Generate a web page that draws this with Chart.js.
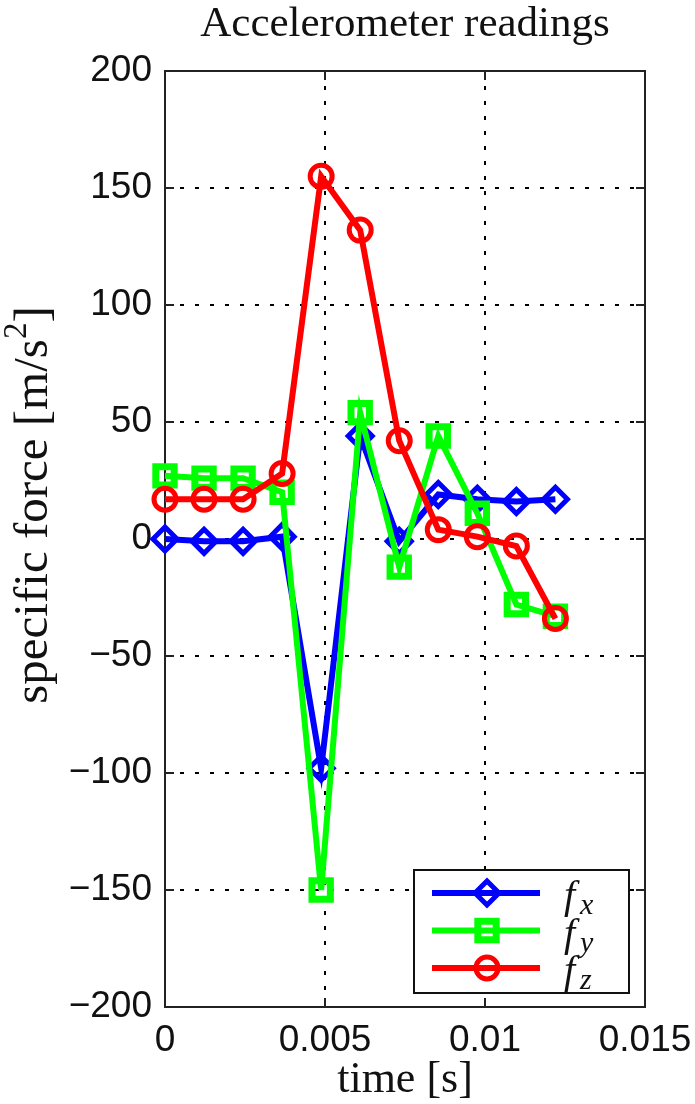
<!DOCTYPE html>
<html lang="en">
<head>
    <meta charset="UTF-8">
    <title>Accelerometer readings</title>
    <script src="https://cdn.jsdelivr.net/npm/chart.js"></script>
    <style>
        body { margin: 0; background: #fff; }
        #wrap { width: 695px; height: 1104px; }
    </style>
</head>
<body>
    <div id="wrap"><canvas id="chart" width="695" height="1104"></canvas></div>

    <script>
        // sample times [s]
        const times = [0, 0.00122, 0.00244, 0.00366, 0.00488, 0.0061, 0.00732, 0.00854, 0.00976, 0.01098, 0.0122];
        // specific force [m/s^2]
        const fx = [0, -1, -1, 1, -98, 44, -1, 19, 17, 16, 17];
        const fy = [27, 26, 26, 20, -150, 54, -12, 44, 11, -28, -33];
        const fz = [17, 17, 17, 28, 155, 132, 42, 4, 1, -3, -34];
        const xTickLabels = ['0', '0.005', '0.01', '0.015'];
        const yTickLabels = ['\u2212200', '\u2212150', '\u2212100', '\u221250', '0', '50', '100', '150', '200'];
        const seriesNames = ['x', 'y', 'z'];

        const serif = '"Liberation Serif", "Times New Roman", serif';
        const sans = '"Liberation Sans", Arial, sans-serif';

        function pts(ys) {
            return ys.map((y, i) => ({ x: times[i], y: y }));
        }

        // dotted grid, box frame and inward ticks (matlab look)
        const framePlugin = {
            id: 'frame',
            beforeDatasetsDraw(chart) {
                const { ctx, chartArea: a, scales } = chart;
                ctx.save();
                ctx.strokeStyle = '#000';
                ctx.lineWidth = 2;
                ctx.setLineDash([4, 11]);
                scales.x.ticks.forEach(t => {
                    const px = scales.x.getPixelForValue(t.value);
                    if (px <= a.left + 1 || px >= a.right - 1) return;
                    ctx.beginPath(); ctx.moveTo(px, a.top); ctx.lineTo(px, a.bottom); ctx.stroke();
                });
                scales.y.ticks.forEach(t => {
                    const py = scales.y.getPixelForValue(t.value);
                    if (py <= a.top + 1 || py >= a.bottom - 1) return;
                    ctx.beginPath(); ctx.moveTo(a.left, py); ctx.lineTo(a.right, py); ctx.stroke();
                });
                ctx.setLineDash([]);
                ctx.strokeStyle = '#222';
                ctx.lineWidth = 2;
                ctx.strokeRect(a.left, a.top, a.right - a.left, a.bottom - a.top);
                const tl = 9;
                ctx.beginPath();
                scales.x.ticks.forEach(t => {
                    const px = scales.x.getPixelForValue(t.value);
                    ctx.moveTo(px, a.bottom); ctx.lineTo(px, a.bottom - tl);
                    ctx.moveTo(px, a.top); ctx.lineTo(px, a.top + tl);
                });
                scales.y.ticks.forEach(t => {
                    const py = scales.y.getPixelForValue(t.value);
                    ctx.moveTo(a.left, py); ctx.lineTo(a.left + tl, py);
                    ctx.moveTo(a.right, py); ctx.lineTo(a.right - tl, py);
                });
                ctx.stroke();

                // y axis label with a real superscript
                ctx.translate(34, 505);
                ctx.rotate(-Math.PI / 2);
                ctx.fillStyle = '#111';
                ctx.textBaseline = 'middle';
                ctx.font = '49px ' + serif;
                const s1 = 'specific force [m/s', s3 = ']';
                const w1 = ctx.measureText(s1).width, w3 = ctx.measureText(s3).width;
                ctx.font = '33px ' + serif;
                const w2 = ctx.measureText('2').width;
                let x = -(w1 + w2 + w3) / 2;
                ctx.font = '49px ' + serif;
                ctx.fillText(s1, x, 0);
                ctx.font = '33px ' + serif;
                ctx.fillText('2', x + w1, -17);
                ctx.font = '49px ' + serif;
                ctx.fillText(s3, x + w1 + w2, 0);
                ctx.restore();
            }
        };

        const legendPlugin = {
            id: 'boxLegend',
            afterDatasetsDraw(chart) {
                const { ctx, chartArea: a } = chart;
                const w = 215, h = 123;
                const x0 = a.right - 16 - w, y0 = a.bottom - 14 - h;
                ctx.save();
                ctx.fillStyle = '#fff';
                ctx.fillRect(x0, y0, w, h);
                ctx.strokeStyle = '#111';
                ctx.lineWidth = 2;
                ctx.strokeRect(x0, y0, w, h);
                [0, 1, 2].forEach((k, i) => {
                    const ds = chart.data.datasets[k];
                    const y = y0 + 23 + i * 37.5;
                    ctx.strokeStyle = ds.borderColor;
                    ctx.lineWidth = ds.borderWidth;
                    ctx.beginPath(); ctx.moveTo(x0 + 18, y); ctx.lineTo(x0 + 126, y); ctx.stroke();
                    ctx.fillStyle = 'rgba(0,0,0,0)';
                    ctx.lineWidth = ds.pointBorderWidth;
                    Chart.helpers.drawPoint(ctx, {
                        pointStyle: ds.pointStyle, radius: ds.pointRadius, rotation: 0, borderWidth: ds.pointBorderWidth
                    }, x0 + 73, y);
                    ctx.fillStyle = '#111';
                    ctx.textBaseline = 'alphabetic';
                    ctx.font = 'italic 40px ' + serif;
                    ctx.fillText('f', x0 + 150, y + 15);
                    ctx.font = 'italic 30px ' + serif;
                    ctx.fillText(seriesNames[k], x0 + 166, y + 21);
                });
                ctx.restore();
            }
        };

        function lineSet(label, ys, color, style, radius, bw, order) {
            return {
                label: label,
                data: pts(ys),
                borderColor: color,
                backgroundColor: color,
                borderWidth: 6,
                pointStyle: style,
                pointRadius: radius,
                pointHoverRadius: radius,
                pointBorderWidth: bw,
                pointBorderColor: color,
                pointBackgroundColor: 'rgba(0,0,0,0)',
                tension: 0,
                clip: false,
                order: order
            };
        }

        new Chart(document.getElementById('chart'), {
            type: 'line',
            data: {
                datasets: [
                    lineSet('f_x', fx, '#0000ff', 'rectRot', 12, 5, 2),
                    lineSet('f_y', fy, '#00ff00', 'rect', 13, 7, 1),
                    lineSet('f_z', fz, '#ff0000', 'circle', 11, 5, 0)
                ]
            },
            options: {
                responsive: false,
                animation: false,
                events: [],
                layout: { padding: { left: 0, right: 50, top: 0, bottom: 0 } },
                plugins: {
                    legend: { display: false },
                    tooltip: { enabled: false },
                    title: {
                        display: true,
                        text: 'Accelerometer readings',
                        fullSize: false,
                        color: '#111',
                        font: { family: serif, size: 43, weight: 'normal', lineHeight: 1.0 },
                        padding: { top: 3, bottom: 25 }
                    }
                },
                scales: {
                    x: {
                        type: 'linear',
                        min: 0,
                        max: 0.015,
                        grid: { display: false, drawTicks: false },
                        border: { display: false },
                        afterFit: s => { s.height = 97; s.paddingLeft = 0; s.paddingRight = 0; },
                        ticks: {
                            stepSize: 0.005,
                            padding: 12,
                            color: '#111',
                            maxRotation: 0,
                            font: { family: sans, size: 37 },
                            callback: (v, i) => xTickLabels[i]
                        },
                        title: {
                            display: true,
                            text: 'time [s]',
                            color: '#111',
                            font: { family: serif, size: 44, lineHeight: 1.0 },
                            padding: { top: 0, bottom: 2 }
                        }
                    },
                    y: {
                        min: -200,
                        max: 200,
                        grid: { display: false, drawTicks: false },
                        border: { display: false },
                        afterFit: s => { s.width = 165; },
                        ticks: {
                            stepSize: 50,
                            padding: 13,
                            color: '#111',
                            font: { family: sans, size: 37 },
                            callback: (v, i) => yTickLabels[i]
                        }
                    }
                }
            },
            plugins: [framePlugin, legendPlugin]
        });
    </script>
</body>
</html>
